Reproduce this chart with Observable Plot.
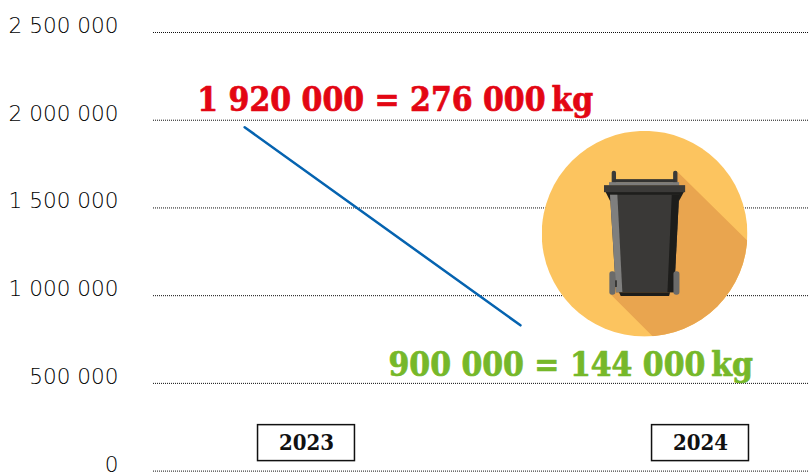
<!DOCTYPE html>
<html>
<head>
<meta charset="utf-8">
<script src="https://cdn.jsdelivr.net/npm/d3@7"></script>
<script src="https://cdn.jsdelivr.net/npm/@observablehq/plot@0.6"></script>
<style>
html,body{margin:0;padding:0;background:#fff}
svg{display:block}
</style>
</head>
<body>
<div id="chart"></div>
<script>
const yTicks = [0, 500000, 1000000, 1500000, 2000000, 2500000];
const trendYears = [2022.843, 2023.543];
const trendValues = [1960000, 831000];
const years = [2023, 2024];
const calloutTexts = ["1 920 000 = 276 000\u2009kg", "900 000 = 144 000\u2009kg"];
const calloutYears = [2022.723, 2023.208];
const calloutValues = [2112000, 604000];
const calloutColors = ["#e30613", "#76b82a"];

const binIcon = `<svg xmlns="http://www.w3.org/2000/svg" viewBox="35 32 617 617" width="617" height="617">
<defs><clipPath id="c"><circle cx="343.5" cy="340.5" r="308"/></clipPath></defs>
<circle cx="343.5" cy="340.5" r="308" fill="#fcc45f"/>
<polygon clip-path="url(#c)" fill="#e9a54f" points="442,155 660,370 660,660 380,660 240,520 300,300 430,190"/>
<rect x="245" y="152" width="13" height="40" rx="6" fill="#3b3a38"/>
<rect x="429" y="152" width="13" height="40" rx="6" fill="#3b3a38"/>
<rect x="250" y="177" width="186" height="10" fill="#333331"/>
<rect x="237" y="186" width="210" height="10" fill="#7c7c7b"/>
<polygon points="226,214 462,214 447,242 240,242" fill="#1e1e1c"/>
<rect x="222" y="195" width="243" height="21" fill="#3b3a38"/>
<polygon points="240,224 447,224 432,516 258,516" fill="#3a3937"/>
<polygon points="240,224 262,224 277,516 258,516" fill="#7f7f7e"/>
<polygon points="425,224 447,224 432,516 412,516" fill="#1d1d1b"/>
<polygon points="267,516 420,516 417,527 272,527" fill="#1d1d1b"/>
<rect x="252" y="480" width="8" height="20" fill="#1d1d1b"/>
<rect x="428" y="480" width="8" height="20" fill="#1d1d1b"/>
<rect x="238" y="453" width="18" height="70" rx="8" fill="#6b6b6a"/>
<rect x="430" y="453" width="18" height="70" rx="8" fill="#6b6b6a"/>
</svg>`;
const binSrc = "data:image/svg+xml;charset=utf-8," + encodeURIComponent(binIcon);

const trend = trendYears.map((x, i) => ({x, y: trendValues[i]}));
const callouts = calloutTexts.map((text, i) => ({text, x: calloutYears[i], y: calloutValues[i], color: calloutColors[i]}));
const slab = "'DejaVu Serif Condensed','DejaVu Serif',serif";

const chart = Plot.plot({
  width: 809,
  height: 474,
  marginTop: 32,
  marginBottom: 3.4,
  marginLeft: 153,
  marginRight: 0,
  style: {fontFamily: "'DejaVu Sans',sans-serif", background: "#fff"},
  x: {domain: [2022.6117, 2024.2766], axis: null},
  y: {domain: [0, 2500000], axis: null},
  marks: [
    Plot.ruleY(yTicks, {stroke: "#111", strokeWidth: 1, strokeDasharray: "1,1"}),
    Plot.axisY({
      ticks: yTicks,
      tickSize: 0,
      tickPadding: 35,
      fontSize: 21.6,
      dy: -6.5,
      color: "#000",
      fontWeight: 300,
      tickFormat: d => d3.format(",")(d).replace(/,/g, " "),
      label: null
    }),
    Plot.line(trend, {x: "x", y: "y", stroke: "#0563b0", strokeWidth: 2.5}),
    Plot.image([{x: 2023.858, y: 1353000}], {x: "x", y: "y", src: () => binSrc, width: 206, height: 206}),
    Plot.text(callouts, {
      x: "x", y: "y", text: "text", fill: "color", stroke: "color", strokeWidth: 0.7,
      textAnchor: "start", fontSize: 33.3, fontWeight: "bold",
      fontFamily: slab, fontStretch: "condensed"
    }),
    Plot.rect(years, {
      x1: d => d - 0.123, x2: d => d + 0.123,
      y1: 57000, y2: 262000,
      fill: "#fff", stroke: "#111", strokeWidth: 1.5
    }),
    Plot.text(years, {
      x: d => d, y: 160000, text: d => String(d),
      fontSize: 22, fontWeight: "bold", fill: "#111",
      fontFamily: slab, fontStretch: "condensed"
    })
  ]
});
document.getElementById("chart").appendChild(chart);
</script>
</body>
</html>
